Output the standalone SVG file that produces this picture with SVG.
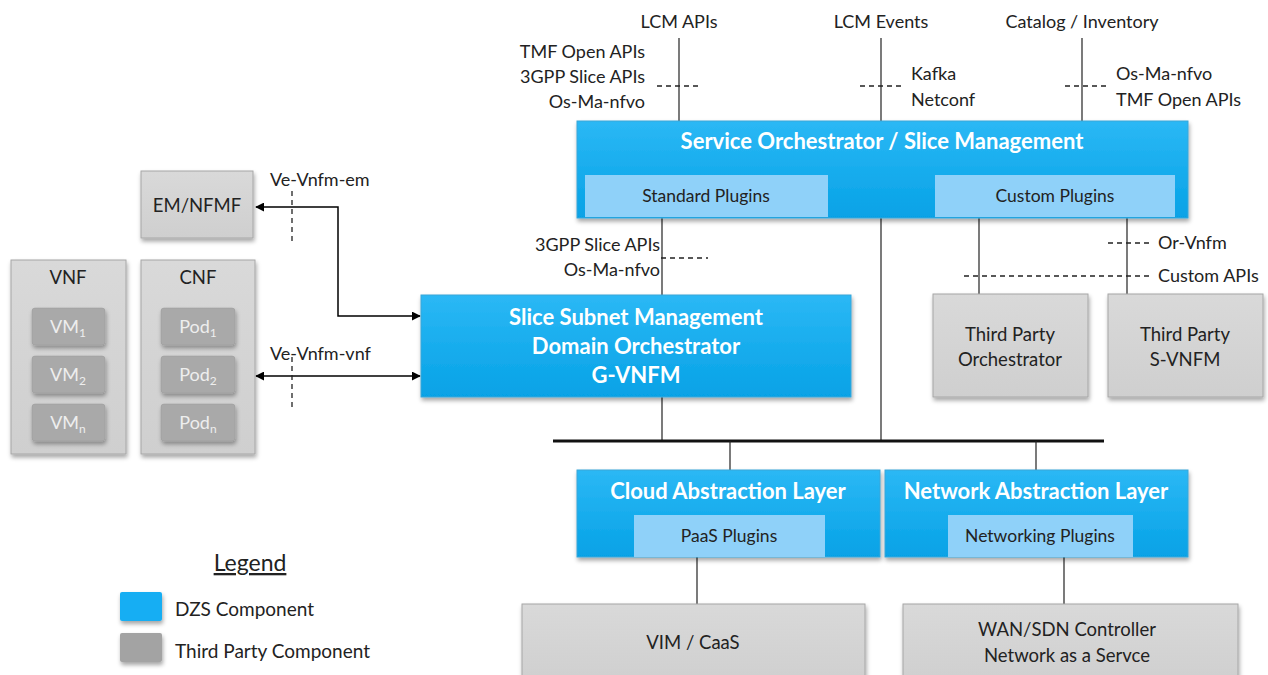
<svg xmlns="http://www.w3.org/2000/svg" width="1268" height="675" viewBox="0 0 1268 675">
<defs>
<linearGradient id="blue" x1="0" y1="0" x2="0" y2="1"><stop offset="0" stop-color="#2bb8f5"/><stop offset="1" stop-color="#06a2e6"/></linearGradient>
<linearGradient id="gray" x1="0" y1="0" x2="0" y2="1"><stop offset="0" stop-color="#d9d9d9"/><stop offset="1" stop-color="#cfcfcf"/></linearGradient>
<filter id="sh" x="-10%" y="-10%" width="130%" height="140%"><feDropShadow dx="1" dy="3" stdDeviation="2" flood-color="#000" flood-opacity="0.35"/></filter>
<marker id="ah" viewBox="0 0 10 10" refX="9" refY="5" markerWidth="9" markerHeight="9" markerUnits="userSpaceOnUse" orient="auto-start-reverse"><path d="M0,0 L10,5 L0,10 z" fill="#000"/></marker>
</defs>
<style>
text{font-family:Lato,"Open Sans","Liberation Sans",sans-serif;fill:#222;font-size:18px}
.t{font-size:22px;font-weight:bold;fill:#fff;text-anchor:middle}
.p{font-size:17.5px;fill:#222;text-anchor:middle}
.g{font-size:18.5px;fill:#222;text-anchor:middle}
.vm{font-size:18px;fill:#eee;text-anchor:middle}
.lg{font-size:19px}
.lh{font-size:23px;text-anchor:middle;text-decoration:underline}
.r{text-anchor:end}
.blue{fill:url(#blue);stroke:#3aa6d8;stroke-width:1;filter:url(#sh)}
.sub{fill:#8fd1f9}
.box{fill:url(#gray);stroke:#a6a6a6;stroke-width:1;filter:url(#sh)}
.vmb{fill:#a9a9a9;stroke:#999;stroke-width:0.5;filter:url(#sh)}
.ln{stroke:#222;stroke-width:1.2;fill:none}
.ds{stroke:#222;stroke-width:1.3;stroke-dasharray:5,4;fill:none}
.ar{stroke:#000;stroke-width:1.5;fill:none}
</style>

<g id="connectors">
<line class="ln" x1="679" y1="38" x2="679" y2="121"/>
<line class="ln" x1="881" y1="38" x2="881" y2="121"/>
<line class="ln" x1="1082" y1="38" x2="1082" y2="121"/>
<line class="ds" x1="657" y1="86" x2="699" y2="86"/>
<line class="ds" x1="860" y1="86" x2="902" y2="86"/>
<line class="ds" x1="1065" y1="86" x2="1107" y2="86"/>
<line class="ln" x1="662" y1="218" x2="662" y2="295"/>
<line class="ds" x1="661" y1="258" x2="708" y2="258"/>
<line class="ln" x1="881" y1="218" x2="881" y2="441"/>
<line class="ln" x1="979" y1="218" x2="979" y2="294"/>
<line class="ln" x1="1127" y1="218" x2="1127" y2="294"/>
<line class="ds" x1="1108" y1="243" x2="1150" y2="243"/>
<line class="ds" x1="964" y1="276" x2="1150" y2="276"/>
<line class="ln" x1="662" y1="397" x2="662" y2="441"/>
<line stroke="#111" stroke-width="3" x1="553" y1="441" x2="1104" y2="441"/>
<line class="ln" x1="730" y1="441" x2="730" y2="470"/>
<line class="ln" x1="1036" y1="441" x2="1036" y2="470"/>
<line class="ln" x1="697" y1="557" x2="697" y2="604"/>
<line class="ln" x1="1064" y1="557" x2="1064" y2="604"/>
<path class="ar" d="M420,316 L338,316 L338,207 L256,207" marker-start="url(#ah)" marker-end="url(#ah)"/>
<line class="ar" x1="256" y1="376" x2="420" y2="376" marker-start="url(#ah)" marker-end="url(#ah)"/>
<line class="ds" x1="292" y1="191" x2="292" y2="244"/>
<line class="ds" x1="292" y1="357" x2="292" y2="408"/>
</g>

<g id="labels">
<text x="679" y="28" text-anchor="middle">LCM APIs</text>
<text x="881" y="28" text-anchor="middle">LCM Events</text>
<text x="1082" y="28" text-anchor="middle">Catalog / Inventory</text>
<text x="645" y="58" class="r">TMF Open APIs</text>
<text x="645" y="83" class="r">3GPP Slice APIs</text>
<text x="645" y="108" class="r">Os-Ma-nfvo</text>
<text x="911" y="80">Kafka</text>
<text x="911" y="106">Netconf</text>
<text x="1116" y="80">Os-Ma-nfvo</text>
<text x="1116" y="106">TMF Open APIs</text>
<text x="660" y="251" class="r">3GPP Slice APIs</text>
<text x="660" y="276" class="r">Os-Ma-nfvo</text>
<text x="1158" y="249">Or-Vnfm</text>
<text x="1158" y="282">Custom APIs</text>
<text x="270" y="186">Ve-Vnfm-em</text>
<text x="270" y="360">Ve-Vnfm-vnf</text>
</g>

<g id="service-orchestrator">
<rect class="blue" x="577" y="121" width="611" height="97"/>
<text class="t" x="882" y="149">Service Orchestrator / Slice Management</text>
<rect class="sub" x="585" y="175" width="243" height="42"/>
<text class="p" x="706" y="202">Standard Plugins</text>
<rect class="sub" x="935" y="175" width="240" height="42"/>
<text class="p" x="1055" y="202">Custom Plugins</text>
</g>

<g id="slice-subnet">
<rect class="blue" x="421" y="295" width="430" height="102"/>
<text class="t" x="636" y="325">Slice Subnet Management</text>
<text class="t" x="636" y="354">Domain Orchestrator</text>
<text class="t" x="636" y="383">G-VNFM</text>
</g>

<g id="third-party-orchestrator">
<rect class="box" x="933" y="294" width="155" height="103"/>
<text class="g" x="1010" y="341">Third Party</text>
<text class="g" x="1010" y="366">Orchestrator</text>
</g>

<g id="third-party-svnfm">
<rect class="box" x="1108" y="294" width="155" height="103"/>
<text class="g" x="1185" y="341">Third Party</text>
<text class="g" x="1185" y="366">S-VNFM</text>
</g>

<g id="cloud-abstraction">
<rect class="blue" x="577" y="470" width="303" height="87"/>
<text class="t" x="728" y="499">Cloud Abstraction Layer</text>
<rect class="sub" x="634" y="515" width="191" height="42"/>
<text class="p" x="729" y="542">PaaS Plugins</text>
</g>

<g id="network-abstraction">
<rect class="blue" x="885" y="470" width="303" height="87"/>
<text class="t" x="1036" y="499">Network Abstraction Layer</text>
<rect class="sub" x="948" y="515" width="185" height="42"/>
<text class="p" x="1040" y="542">Networking Plugins</text>
</g>

<g id="vim-caas">
<rect class="box" x="522" y="604" width="343" height="80"/>
<text class="g" x="693" y="649">VIM / CaaS</text>
</g>

<g id="wan-sdn">
<rect class="box" x="903" y="604" width="335" height="80"/>
<text class="g" x="1067" y="636">WAN/SDN Controller</text>
<text class="g" x="1067" y="662">Network as a Servce</text>
</g>

<g id="em-nfmf">
<rect class="box" x="141" y="171" width="112" height="67"/>
<text class="g" x="197" y="212">EM/NFMF</text>
</g>

<g id="vnf">
<rect class="box" x="11" y="260" width="115" height="194"/>
<text class="g" x="68" y="284">VNF</text>
<rect class="vmb" x="32" y="308" width="73" height="37" rx="3"/>
<text class="vm" x="68" y="333">VM<tspan font-size="12" dy="4">1</tspan></text>
<rect class="vmb" x="32" y="356" width="73" height="37" rx="3"/>
<text class="vm" x="68" y="381">VM<tspan font-size="12" dy="4">2</tspan></text>
<rect class="vmb" x="32" y="404" width="73" height="37" rx="3"/>
<text class="vm" x="68" y="429">VM<tspan font-size="12" dy="4">n</tspan></text>
</g>

<g id="cnf">
<rect class="box" x="141" y="260" width="114" height="194"/>
<text class="g" x="198" y="284">CNF</text>
<rect class="vmb" x="161" y="308" width="74" height="37" rx="3"/>
<text class="vm" x="198" y="333">Pod<tspan font-size="12" dy="4">1</tspan></text>
<rect class="vmb" x="161" y="356" width="74" height="37" rx="3"/>
<text class="vm" x="198" y="381">Pod<tspan font-size="12" dy="4">2</tspan></text>
<rect class="vmb" x="161" y="404" width="74" height="37" rx="3"/>
<text class="vm" x="198" y="429">Pod<tspan font-size="12" dy="4">n</tspan></text>
</g>

<g id="legend">
<text class="lh" x="250" y="571">Legend</text>
<rect x="120" y="592" width="42" height="29" rx="2" fill="#15aef3" filter="url(#sh)"/>
<text class="lg" x="175" y="616">DZS Component</text>
<rect x="120" y="633" width="42" height="29" rx="2" fill="#a3a3a3" filter="url(#sh)"/>
<text class="lg" x="175" y="658">Third Party Component</text>
</g>
</svg>
